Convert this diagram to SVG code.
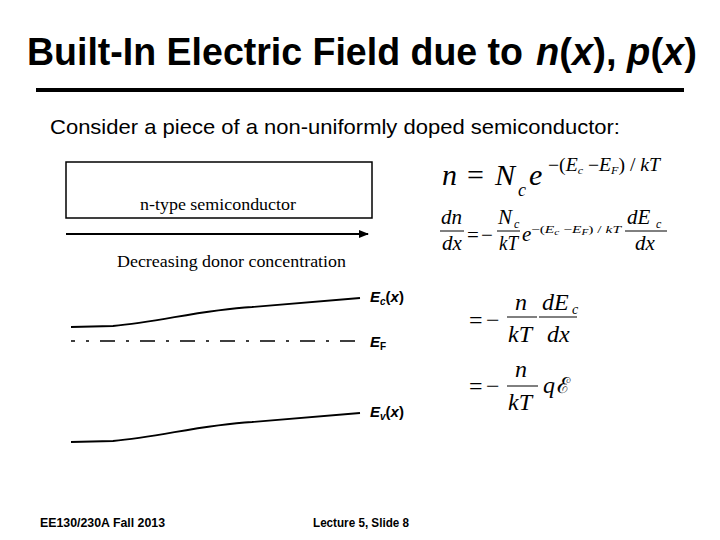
<svg xmlns="http://www.w3.org/2000/svg" width="720" height="540" viewBox="0 0 720 540">
<defs>
<style>
.title{font-family:"Liberation Sans",Arial,sans-serif;font-weight:bold;font-size:38px;fill:#000}
.sub{font-family:"Liberation Sans",Arial,sans-serif;font-size:21px;fill:#000}
.foot{font-family:"Liberation Sans",Arial,sans-serif;font-weight:bold;font-size:12px;fill:#000}
.tm{font-family:"Liberation Serif","Times New Roman",serif;font-size:17px;fill:#000}
.lbl{font-family:"Liberation Sans",Arial,sans-serif;font-weight:bold;font-style:italic;font-size:15px;fill:#000}
.m{font-family:"Liberation Serif","Times New Roman",serif;fill:#000}
.i{font-style:italic}
.band{fill:none;stroke:#000;stroke-width:1.8}
.bar{stroke:#000;stroke-width:1}
</style>
<marker id="ah" markerWidth="10" markerHeight="8" refX="9" refY="4" orient="auto" markerUnits="userSpaceOnUse">
<path d="M0,0 L10,4 L0,8 Z" fill="#000"/>
</marker>
</defs>
<rect width="720" height="540" fill="#fff"/>

<g id="title">
<text class="title" x="27" y="65" textLength="496" lengthAdjust="spacingAndGlyphs">Built-In Electric Field due to</text>
<text class="title" x="536" y="65" textLength="161" lengthAdjust="spacingAndGlyphs"><tspan font-style="italic">n</tspan>(<tspan font-style="italic">x</tspan>), <tspan font-style="italic">p</tspan>(<tspan font-style="italic">x</tspan>)</text>
<line x1="36" y1="90" x2="684" y2="90" stroke="#000" stroke-width="4"/>
</g>

<g id="subtitle">
<text class="sub" x="50" y="134" textLength="570" lengthAdjust="spacingAndGlyphs">Consider a piece of a non-uniformly doped semiconductor:</text>
</g>

<g id="semiconductor">
<rect x="66" y="162" width="306" height="56" fill="#fff" stroke="#000" stroke-width="1.5"/>
<text class="tm" x="218" y="210" text-anchor="middle" textLength="156" lengthAdjust="spacingAndGlyphs">n-type semiconductor</text>
</g>

<g id="connectors">
<line x1="66" y1="234" x2="368" y2="234" stroke="#000" stroke-width="2" marker-end="url(#ah)"/>
</g>

<g id="donor-label">
<text class="tm" x="117" y="267" textLength="229" lengthAdjust="spacingAndGlyphs">Decreasing donor concentration</text>
</g>

<g id="Ec">
<path class="band" d="M71,327 L113,326 C160,322 200,310 252,307 L360,298"/>
<text class="lbl" x="370" y="302">E<tspan font-size="10" dy="3">c</tspan><tspan dy="-3" font-style="normal">(</tspan>x<tspan font-style="normal">)</tspan></text>
</g>

<g id="EF">
<line x1="71" y1="341" x2="363" y2="341" stroke="#000" stroke-width="1.6" stroke-dasharray="15 11 3 11" stroke-dashoffset="11"/>
<text class="lbl" x="370" y="347">E<tspan font-size="10" dy="3" font-style="normal">F</tspan></text>
</g>

<g id="Ev">
<path class="band" d="M71,442 L113,441 C160,437 200,425 252,422 L360,413"/>
<text class="lbl" x="370" y="417">E<tspan font-size="10" dy="3">v</tspan><tspan dy="-3" font-style="normal">(</tspan>x<tspan font-style="normal">)</tspan></text>
</g>

<g id="eq1">
<text class="m i" font-size="30" x="442" y="185">n</text>
<text class="m" font-size="30" x="467" y="185">=</text>
<text class="m i" font-size="30" x="495" y="185">N</text>
<text class="m i" font-size="18" x="518" y="196">c</text>
<text class="m i" font-size="30" x="529" y="185">e</text>
<text class="m" font-size="18" x="548" y="171" textLength="112" lengthAdjust="spacingAndGlyphs">−(<tspan class="i">E</tspan><tspan class="i" font-size="11" dy="3">c</tspan><tspan dy="-3"> −</tspan><tspan class="i">E</tspan><tspan class="i" font-size="11" dy="3">F</tspan><tspan dy="-3">) / </tspan><tspan class="i">kT</tspan></text>
</g>

<g id="eq2">
<text class="m i" font-size="21" x="441" y="224">dn</text>
<line class="bar" x1="440" y1="231" x2="464" y2="231"/>
<text class="m i" font-size="21" x="442" y="250">dx</text>
<text class="m" font-size="21" x="467" y="242">=</text>
<text class="m" font-size="21" x="481" y="242">−</text>
<text class="m i" font-size="21" x="498" y="224">N</text>
<text class="m i" font-size="12" x="514" y="228">c</text>
<line class="bar" x1="497" y1="231" x2="520" y2="231"/>
<text class="m i" font-size="21" x="499" y="250" textLength="19" lengthAdjust="spacingAndGlyphs">kT</text>
<text class="m i" font-size="21" x="522" y="241">e</text>
<text class="m" font-size="11" x="531" y="233" textLength="90" lengthAdjust="spacingAndGlyphs">−(<tspan class="i">E</tspan><tspan class="i" font-size="8" dy="2">c</tspan><tspan dy="-2"> −</tspan><tspan class="i">E</tspan><tspan class="i" font-size="8" dy="2">F</tspan><tspan dy="-2">) / </tspan><tspan class="i">kT</tspan></text>
<text class="m i" font-size="21" x="627" y="224">dE</text>
<text class="m i" font-size="12" x="656" y="228">c</text>
<line class="bar" x1="625" y1="231" x2="667" y2="231"/>
<text class="m i" font-size="21" x="635" y="250">dx</text>
</g>

<g id="eq3">
<text class="m" font-size="24" x="469" y="328">=</text>
<text class="m" font-size="24" x="486" y="328">−</text>
<text class="m i" font-size="24" x="515" y="310">n</text>
<line class="bar" x1="507" y1="317" x2="537" y2="317"/>
<text class="m i" font-size="24" x="508" y="342">kT</text>
<text class="m i" font-size="24" x="542" y="310">dE</text>
<text class="m i" font-size="14" x="572" y="314">c</text>
<line class="bar" x1="539" y1="317" x2="577" y2="317"/>
<text class="m i" font-size="24" x="547" y="342">dx</text>
</g>

<g id="eq4">
<text class="m" font-size="24" x="469" y="394">=</text>
<text class="m" font-size="24" x="486" y="394">−</text>
<text class="m i" font-size="24" x="515" y="377">n</text>
<line class="bar" x1="507" y1="386" x2="538" y2="386"/>
<text class="m i" font-size="24" x="508" y="410">kT</text>
<text class="m i" font-size="24" x="543" y="393">q</text>
<text font-family="'DejaVu Serif',serif" font-size="22" x="557" y="393">ℰ</text>
</g>

<g id="footer">
<text class="foot" x="40" y="527" textLength="125" lengthAdjust="spacingAndGlyphs">EE130/230A Fall 2013</text>
<text class="foot" x="313" y="527" textLength="96" lengthAdjust="spacingAndGlyphs">Lecture 5, Slide 8</text>
</g>
</svg>
